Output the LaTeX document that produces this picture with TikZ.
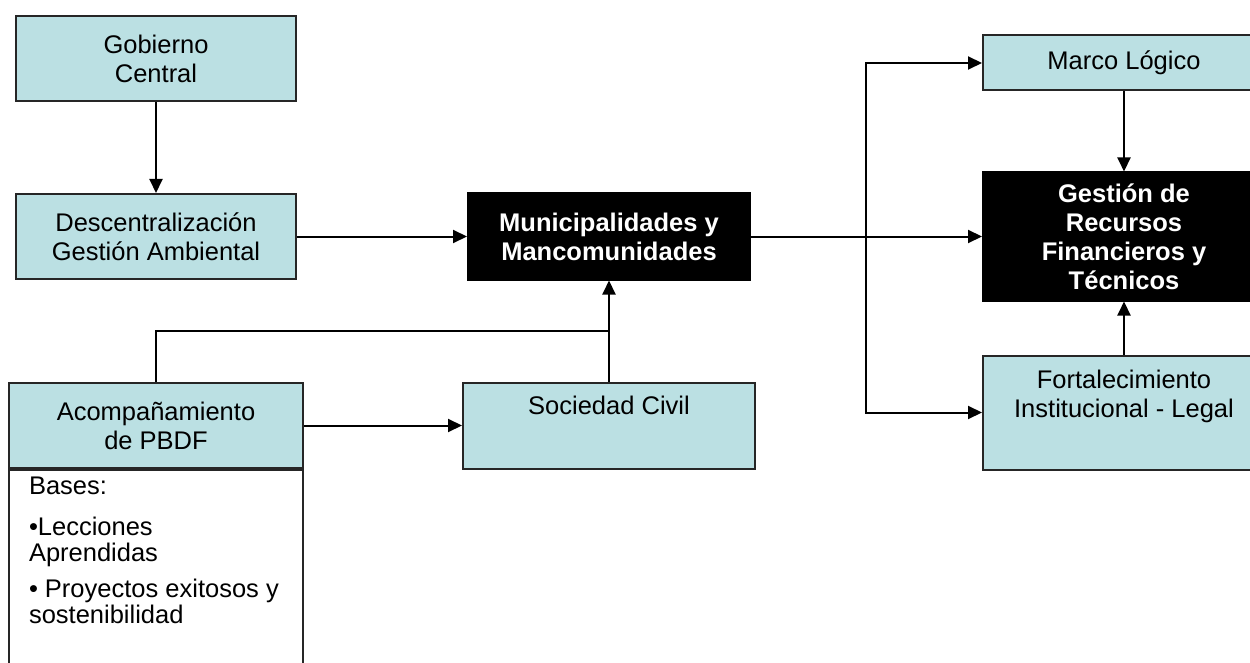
\documentclass[tikz,border=0pt]{standalone}
\usepackage{fontspec}
\setmainfont{Liberation Sans}
\usetikzlibrary{arrows.meta,positioning}
\definecolor{boxblue}{RGB}{187,224,227}

\tikzset{
  box/.style={draw=black!85,line width=2pt,fill=boxblue,minimum width=280pt,minimum height=85pt,align=center,inner sep=0pt,font=\fontsize{25.5}{29}\selectfont},
  darkbox/.style={box,draw=black,fill=black,text=white,minimum width=282pt,font=\fontsize{25.5}{29}\selectfont\bfseries},
  link/.style={line width=2pt,-{Triangle[length=14pt,width=13pt]}},
  wire/.style={line width=2pt}
}

\begin{document}
\begin{tikzpicture}[x=1pt,y=-1pt]
\useasboundingbox (0,0) rectangle (1250,663);
\clip (0,0) rectangle (1250,663);

\node[box] (gob) at (156,58.5) {Gobierno\\Central};
\node[box,below=91pt of gob] (desc) {Descentralización\\Gestión Ambiental};
\node[darkbox,minimum height=86pt,right=170pt of desc] (muni) {Municipalidades y\\Mancomunidades};
\node[darkbox,minimum height=128pt,right=231pt of muni] (gest) {Gestión de\\Recursos\\Financieros y\\Técnicos};
\node[box,minimum width=282pt,minimum height=55pt,above=80pt of gest] (marco) {Marco Lógico};
\node[box,below=53pt of gest] (fort) {\parbox[c][114pt][t]{282pt}{\centering\vspace*{15pt}Fortalecimiento\\Institucional - Legal}};
\node[box,minimum width=294pt,below=102pt of desc] (acomp) {Acompañamiento\\de PBDF};
\node[box,right=158pt of acomp] (soc) {\parbox[c][86pt][t]{292pt}{\centering\vspace*{14pt}Sociedad Civil}};
\node[box,fill=white,inner xsep=20pt,below=0pt of acomp] (bases) {\parbox[c][230pt][t]{254pt}{\fontsize{25.5}{26}\selectfont\raggedright\vspace*{7pt}Bases:\\[15pt]•Lecciones\\Aprendidas\\[10pt]• Proyectos exitosos y\\sostenibilidad}};

% connectors
\coordinate[right=115pt of muni.east] (split);
\coordinate[above=51pt of soc.north] (join);

\draw[link] (gob) -- (desc);
\draw[link] (desc) -- (muni);
\draw[link] (muni.east) -- (gest.west);
\draw[link] (split) |- (marco.west);
\draw[link] (split) |- (fort.west);
\draw[link] (marco) -- (gest);
\draw[link] (fort) -- (gest);
\draw[wire] (acomp.north) |- (join);
\draw[link] (soc.north) -- (muni.south);
\draw[link] (acomp) -- (soc);
\end{tikzpicture}
\end{document}
